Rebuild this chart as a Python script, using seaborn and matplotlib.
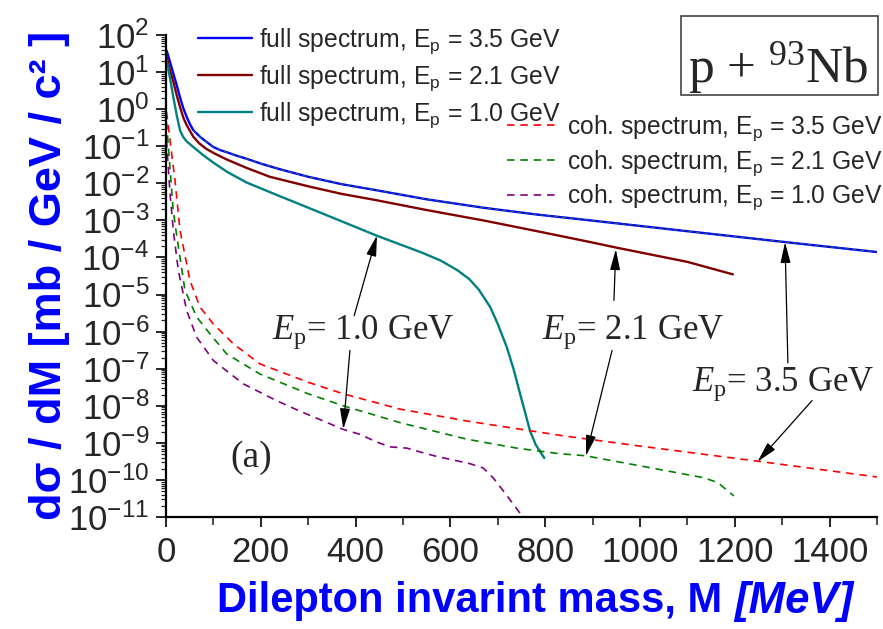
import matplotlib
matplotlib.use("Agg")
import numpy as np
import pandas as pd
import matplotlib.pyplot as plt
import seaborn as sns
from matplotlib.lines import Line2D
from matplotlib.patches import Rectangle
from matplotlib.ticker import LogLocator, FuncFormatter, MultipleLocator, NullFormatter

# ---------------- data ----------------
m_full35 = [1.4, 8.4, 15.5, 22.5, 29.5, 36.6, 43.6, 50.6, 57.7, 71.7, 85.8, 100, 114, 128, 150, 170, 200, 240, 300, 370, 444, 550, 669, 780, 895, 1100, 1306, 1500]
s_full35 = [38, 19, 9.1, 4.5, 2.1, 1.05, 0.62, 0.39, 0.27, 0.18, 0.13, 0.095, 0.079, 0.069, 0.055, 0.046, 0.034, 0.024, 0.015, 9.5e-3, 6.5e-3, 3.7e-3, 2.2e-3, 1.45e-3, 1.0e-3, 5.1e-4, 2.6e-4, 1.4e-4]

m_full21 = [0.7, 8.4, 15.5, 22.5, 29.5, 36.6, 43.6, 57.7, 70, 85, 100, 128, 170, 219, 300, 370, 444, 550, 669, 780, 895, 954, 1100, 1196]
s_full21 = [29, 11, 5.5, 2.4, 1.15, 0.59, 0.37, 0.18, 0.12, 0.085, 0.066, 0.044, 0.026, 0.015, 8.3e-3, 5.2e-3, 3.5e-3, 1.9e-3, 1.0e-3, 5.2e-4, 2.6e-4, 1.8e-4, 7.6e-5, 3.5e-5]

m_full10 = [1, 8.4, 15.5, 22.5, 29.5, 36, 43.6, 57.7, 78, 100, 130, 170, 240, 300, 370, 444, 500, 540, 580, 615, 640, 660, 684, 700, 719, 733, 747, 758, 768, 780, 798]
s_full10 = [21, 7, 2.1, 0.7, 0.27, 0.18, 0.135, 0.095, 0.058, 0.036, 0.020, 0.0105, 4.5e-3, 2.2e-3, 9.5e-4, 3.9e-4, 2.1e-4, 1.35e-4, 8.2e-5, 4.5e-5, 2.6e-5, 1.35e-5, 4.6e-6, 1.6e-6, 3.8e-7, 1.0e-7, 2.1e-8, 6.3e-9, 2.1e-9, 8.9e-10, 3.9e-10]

m_coh35 = [1, 10, 19, 29.5, 50.5, 71.6, 100, 142, 198, 300, 374, 494, 634, 830, 996, 1248, 1500]
s_coh35 = [0.85, 0.1, 1.2e-2, 5.4e-4, 2.4e-5, 4.6e-6, 1.6e-6, 4.7e-7, 1.35e-7, 4.3e-8, 2.1e-8, 8.1e-9, 3.9e-9, 1.6e-9, 8.3e-10, 3.2e-10, 1.2e-10]

m_coh21 = [1, 8, 15, 21, 40, 64.6, 92.6, 128, 198, 300, 374, 494, 634, 740, 830, 884, 1000, 1134, 1164, 1198]
s_coh21 = [0.45, 0.03, 2e-3, 5.4e-4, 1.3e-5, 2.5e-6, 8.7e-7, 2.5e-7, 7.2e-8, 2.1e-8, 1.0e-8, 3.5e-9, 1.26e-9, 7.2e-10, 5.1e-10, 4.5e-10, 2.4e-10, 1.15e-10, 8.5e-11, 3.7e-11]

m_coh10 = [1, 8, 15.4, 26, 43.6, 64.6, 100, 163, 233, 282, 374, 409, 441, 472, 508, 540, 571, 599, 641, 669, 690, 712, 733, 754, 775]
s_coh10 = [0.145, 6.5e-3, 5.4e-4, 4.5e-5, 3.7e-6, 7.1e-7, 1.66e-7, 3.9e-8, 1.38e-8, 7.2e-9, 2.3e-9, 1.7e-9, 1.1e-9, 7.8e-10, 7.2e-10, 5.5e-10, 4.3e-10, 3.6e-10, 2.75e-10, 2.1e-10, 1.15e-10, 5.0e-11, 2.2e-11, 9.5e-12, 4e-12]

full_labels = [r"full spectrum, E$_p$ = 3.5 GeV", r"full spectrum, E$_p$ = 2.1 GeV", r"full spectrum, E$_p$ = 1.0 GeV"]
coh_labels = [r"coh. spectrum, E$_p$ = 3.5 GeV", r"coh. spectrum, E$_p$ = 2.1 GeV", r"coh. spectrum, E$_p$ = 1.0 GeV"]
full_colors = ["#0000FF", "#800000", "#008080"]
coh_colors = ["#FF0000", "#008000", "#800080"]
overlay_color = "#2E7D32"

energies = ["1.0", "2.1", "3.5"]
ann_text_pos = [(223, 10**-6.19), (793, 10**-6.19), (1110, 10**-7.59)]
# arrows: (head, tail)
ann_arrows = [
    ((445, 10**-3.41), (397, 10**-5.57)),
    ((374, 10**-8.63), (388, 10**-6.51)),
    ((949, 10**-3.78), (945, 10**-5.16)),
    ((886, 10**-9.35), (941, 10**-6.51)),
    ((1306, 10**-3.59), (1312, 10**-6.84)),
    ((1248, 10**-9.51), (1363, 10**-7.86)),
]

# ---------------- build tidy frames ----------------
def frame(ms, ss, lab):
    return pd.DataFrame({"M": ms, "sigma": ss, "series": lab})

df_full = pd.concat([frame(m_full35, s_full35, full_labels[0]),
                     frame(m_full21, s_full21, full_labels[1]),
                     frame(m_full10, s_full10, full_labels[2])], ignore_index=True)
df_coh = pd.concat([frame(m_coh35, s_coh35, coh_labels[0]),
                    frame(m_coh21, s_coh21, coh_labels[1]),
                    frame(m_coh10, s_coh10, coh_labels[2])], ignore_index=True)
df_overlay = frame(m_full35[8:], s_full35[8:], "overlay")

# ---------------- style ----------------
sns.set_style("ticks")
plt.rcParams["font.family"] = ["Liberation Sans", "DejaVu Sans"]
plt.rcParams["mathtext.fontset"] = "custom"
plt.rcParams["mathtext.rm"] = "Liberation Serif"
plt.rcParams["mathtext.it"] = "Liberation Serif:italic"
plt.rcParams["mathtext.default"] = "regular"

fig = plt.figure(figsize=(8.83, 6.29), dpi=100)
ax = fig.add_axes([166 / 883, 1 - 517 / 629, (877 - 166) / 883, (517 - 35) / 629])

sns.lineplot(data=df_full, x="M", y="sigma", hue="series", hue_order=full_labels,
             palette=dict(zip(full_labels, full_colors)), sort=False, estimator=None,
             linewidth=1.7, legend=False, ax=ax)
sns.lineplot(data=df_coh, x="M", y="sigma", hue="series", hue_order=coh_labels,
             palette=dict(zip(coh_labels, coh_colors)), sort=False, estimator=None,
             linewidth=1.2, legend=False, ax=ax)
n_full = 3
for ln in ax.get_lines()[n_full:]:
    ln.set_dashes((4.5, 3.5))
sns.lineplot(data=df_overlay, x="M", y="sigma", color=overlay_color, sort=False, estimator=None,
             linewidth=0.6, legend=False, ax=ax)
ax.get_lines()[-1].set_dashes((5, 4))

ax.set_yscale("log")
ax.set_xlim(0, 1500)
ax.set_ylim(1e-11, 1e2)

ax.yaxis.set_major_locator(LogLocator(base=10, numticks=30))
ax.yaxis.set_minor_locator(LogLocator(base=10, subs=np.arange(2, 10), numticks=30))
ax.yaxis.set_minor_formatter(NullFormatter())
ax.yaxis.set_major_formatter(FuncFormatter(lambda v, p: r"$10^{%d}$" % int(round(np.log10(v)))))
ax.xaxis.set_major_locator(MultipleLocator(200))
ax.xaxis.set_minor_locator(MultipleLocator(100))

ax.tick_params(axis="both", which="major", labelsize=25, width=1.2, length=7, direction="out", color="black")
ax.tick_params(axis="y", which="minor", width=0.9, length=3.5, direction="out")
ax.tick_params(axis="x", which="minor", width=1.2, length=6, direction="out")
ax.tick_params(axis="x", which="major", pad=7)
ax.tick_params(axis="y", which="major", pad=5)

for s in ["top", "right"]:
    ax.spines[s].set_visible(False)
for s in ["left", "bottom"]:
    ax.spines[s].set_linewidth(1.6)
    ax.spines[s].set_color("black")

ax.set_xlabel("")
ax.set_ylabel("")
fig.text(50 / 883, 1 - 275 / 629, "dσ / dM [mb / GeV / c² ]", rotation=90, ha="center", va="center",
         fontsize=32.5, fontweight="bold", color="#0000FF")
fig.text(722 / 883, 1 - 601 / 629, "Dilepton invarint mass, M", ha="right", va="center",
         fontsize=30, fontweight="bold", color="#0000FF")
fig.text(734 / 883, 1 - 601 / 629, "[MeV]", ha="left", va="center",
         fontsize=31.5, fontweight="bold", fontstyle="italic", color="#0000FF")

# legends
h_full = [Line2D([], [], color=c, lw=1.7) for c in full_colors]
h_coh = [Line2D([], [], color=c, lw=1.2, dashes=(4.5, 3.5)) for c in coh_colors]
leg1 = ax.legend(h_full, full_labels, loc="upper left", bbox_to_anchor=(198 / 883, 1 - 26 / 629),
                 bbox_transform=fig.transFigure, frameon=False, fontsize=17.8,
                 handlelength=2.2, handletextpad=0.28, labelspacing=0.3, borderpad=0, borderaxespad=0)
ax.add_artist(leg1)
leg2 = ax.legend(h_coh, coh_labels, loc="upper left", bbox_to_anchor=(507 / 883, 1 - 113 / 629),
                 bbox_transform=fig.transFigure, frameon=False, fontsize=17.7,
                 handlelength=2.15, handletextpad=0.28, labelspacing=0.21, borderpad=0, borderaxespad=0)

# annotations
for e, (x, y) in zip(energies, ann_text_pos):
    ax.text(x, y, r"$\mathit{E}_{p}$= %s GeV" % e, fontsize=25, family="Liberation Serif",
            ha="left", va="baseline")
for head, tail in ann_arrows:
    ax.annotate("", xy=head, xytext=tail,
                arrowprops=dict(arrowstyle="-|>,head_length=0.9,head_width=0.22", color="black",
                                lw=0.9, mutation_scale=14, shrinkA=0, shrinkB=0))
ax.text(180, 10**-9.41, "(a)", fontsize=27, family="Liberation Serif", ha="center", va="center")

fig.patches.append(Rectangle((681 / 883, 1 - 95 / 629), (877.5 - 681) / 883, (95 - 15.7) / 629,
                             transform=fig.transFigure, fill=False, edgecolor="#444444", lw=1.2))
fig.text(778 / 883, 1 - 81.7 / 629, r"p + $^{93}$Nb", fontsize=37, family="Liberation Serif",
         ha="center", va="baseline")

fig.savefig("out.png", dpi=100)
